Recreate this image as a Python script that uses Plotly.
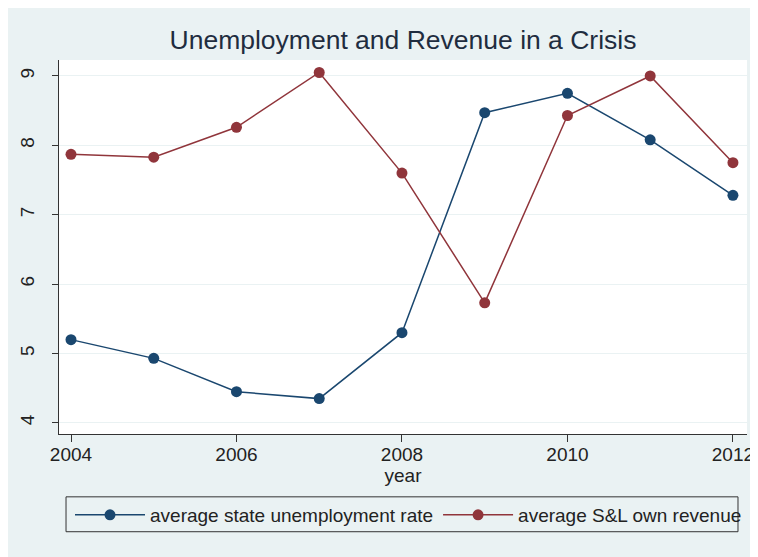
import plotly.graph_objects as go

years = [2004, 2005, 2006, 2007, 2008, 2009, 2010, 2011, 2012]
unemployment = [5.20, 4.93, 4.45, 4.35, 5.30, 8.47, 8.75, 8.08, 7.28]
revenue = [7.87, 7.83, 8.26, 9.05, 7.60, 5.73, 8.43, 9.00, 7.75]
x_ticks = [2004, 2006, 2008, 2010, 2012]
y_ticks = [4, 5, 6, 7, 8, 9]

BLUE = "#1a476f"
RED = "#90353b"
BG = "#eaf2f3"
FONT = "Liberation Sans, Arial, sans-serif"

W, H = 758, 557  # page body adds an 8px offset; the rest is clipped

fig = go.Figure()
fig.add_trace(go.Scatter(x=years, y=unemployment, mode="lines+markers",
                         name="average state unemployment rate",
                         line=dict(color=BLUE, width=1.5),
                         marker=dict(color=BLUE, size=11)))
fig.add_trace(go.Scatter(x=years, y=revenue, mode="lines+markers",
                         name="average S&L own revenue",
                         line=dict(color=RED, width=1.5),
                         marker=dict(color=RED, size=11)))

fig.update_layout(
    width=W, height=H,
    margin=dict(l=51, r=19, t=52, b=131, autoexpand=False),
    paper_bgcolor=BG,
    plot_bgcolor="white",
    font=dict(family=FONT, size=19, color="#222222"),
    title=dict(text="Unemployment and Revenue in a Crisis",
               x=0.5, xanchor="center", xref="paper",
               y=1 - 32 / H, yanchor="middle", yref="container",
               font=dict(size=26.5, color="#1f2d3f", family=FONT)),
    xaxis=dict(range=[2003.855, 2012.17], tickvals=x_ticks,
               showgrid=False, zeroline=False, automargin=False,
               showline=True, linecolor="#333333", linewidth=1,
               ticks="outside", ticklen=7, tickcolor="#333333",
               ticklabelstandoff=-4,
               title=dict(text="year", standoff=2, font=dict(size=19))),
    yaxis=dict(range=[3.84, 9.23], tickvals=y_ticks,
               showgrid=True, gridcolor=BG, gridwidth=1, zeroline=False,
               automargin=False,
               showline=True, linecolor="#333333", linewidth=1,
               ticks="outside", ticklen=6, tickcolor="#333333",
               tickangle=-90, ticklabelstandoff=10),
    showlegend=True,
    legend=dict(orientation="h", xref="container", yref="container",
                x=62 / W, xanchor="left",
                y=1 - 507 / H, yanchor="middle",
                bgcolor="rgba(0,0,0,0)", borderwidth=0,
                font=dict(size=19, color="#222222"),
                itemwidth=70, traceorder="normal"),
    shapes=[
        dict(type="rect", xref="paper", yref="paper", layer="above",
             x0=0.0102, x1=0.9869, y0=-0.2613, y1=-0.168,
             fillcolor="rgba(0,0,0,0)", line=dict(width=1, color="#333333")),
    ],
)

fig.write_html("out.html")
